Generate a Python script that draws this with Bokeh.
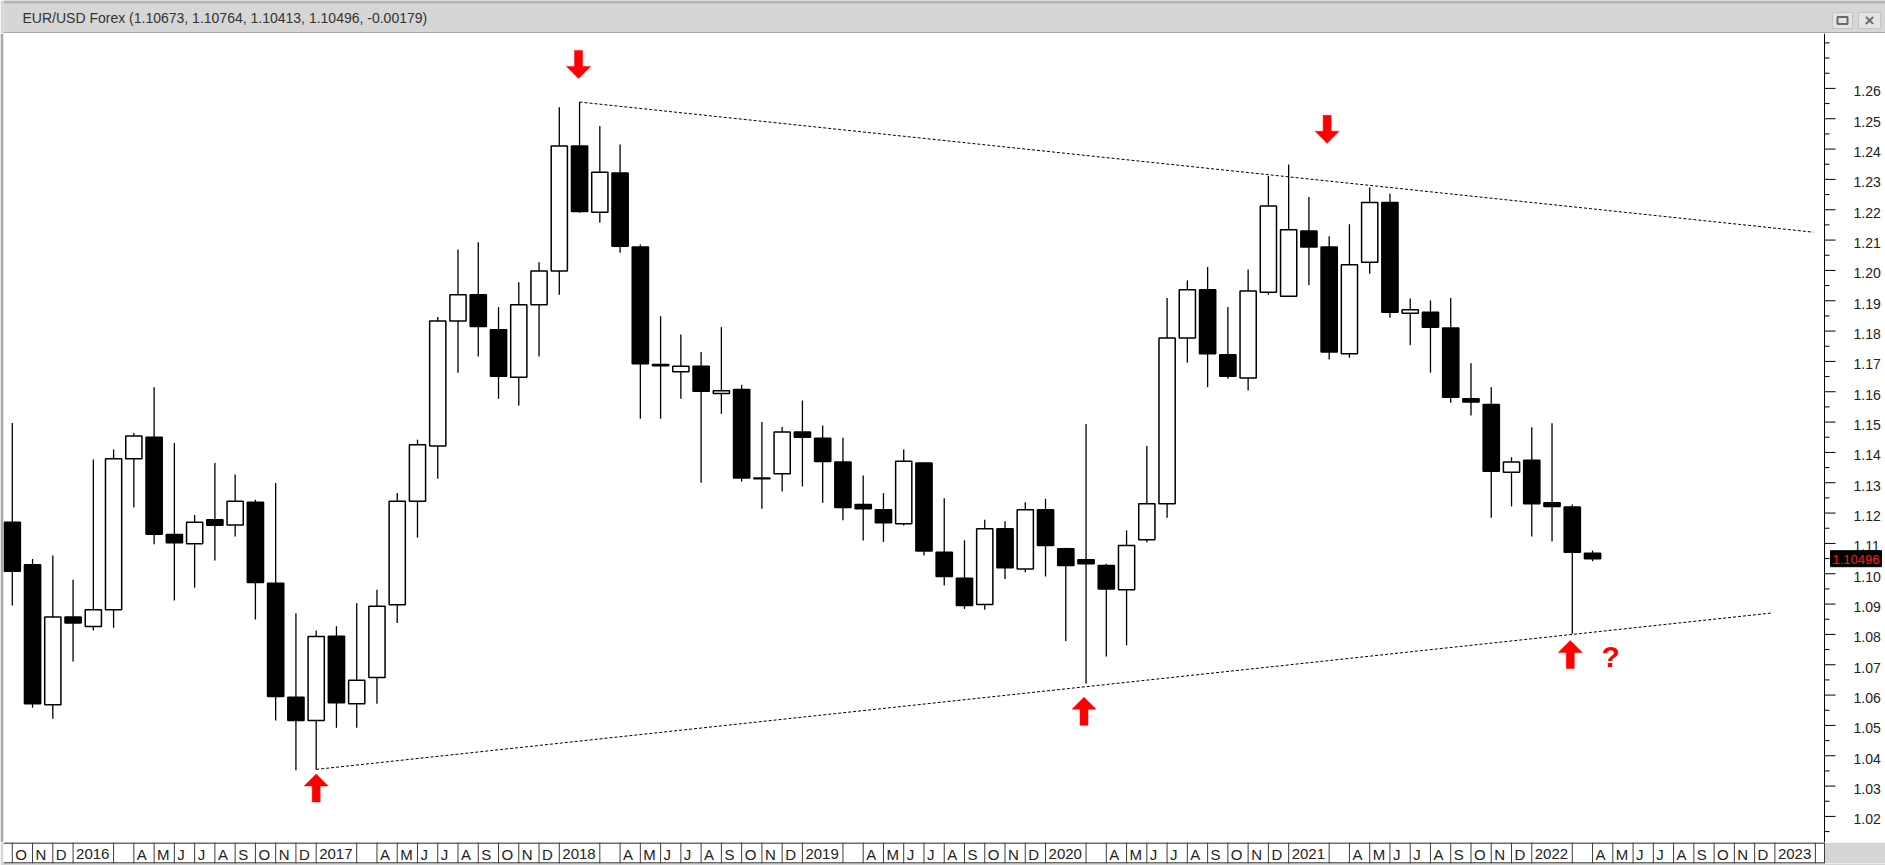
from bokeh.plotting import figure
from bokeh.layouts import column
from bokeh.models import Range1d
from bokeh.core.properties import value
from bokeh.embed import file_html
from bokeh.resources import INLINE

# ---------------- data (EUR/USD monthly, Oct 2015 .. Apr 2022) ----------------
months = ["2015-10", "2015-11", "2015-12",
          "2016-01", "2016-02", "2016-03", "2016-04", "2016-05", "2016-06",
          "2016-07", "2016-08", "2016-09", "2016-10", "2016-11", "2016-12",
          "2017-01", "2017-02", "2017-03", "2017-04", "2017-05", "2017-06",
          "2017-07", "2017-08", "2017-09", "2017-10", "2017-11", "2017-12",
          "2018-01", "2018-02", "2018-03", "2018-04", "2018-05", "2018-06",
          "2018-07", "2018-08", "2018-09", "2018-10", "2018-11", "2018-12",
          "2019-01", "2019-02", "2019-03", "2019-04", "2019-05", "2019-06",
          "2019-07", "2019-08", "2019-09", "2019-10", "2019-11", "2019-12",
          "2020-01", "2020-02", "2020-03", "2020-04", "2020-05", "2020-06",
          "2020-07", "2020-08", "2020-09", "2020-10", "2020-11", "2020-12",
          "2021-01", "2021-02", "2021-03", "2021-04", "2021-05", "2021-06",
          "2021-07", "2021-08", "2021-09", "2021-10", "2021-11", "2021-12",
          "2022-01", "2022-02", "2022-03", "2022-04"]

opens = [1.1170, 1.1030, 1.0568,
         1.0857, 1.0826, 1.0881, 1.1379, 1.1450, 1.1129,
         1.1099, 1.1178, 1.1161, 1.1236, 1.0969, 1.0593,
         1.0516, 1.0794, 1.0571, 1.0658, 1.0898, 1.1239,
         1.1421, 1.1833, 1.1920, 1.1804, 1.1648, 1.1887,
         1.1998, 1.2410, 1.2192, 1.2321, 1.2077, 1.1690,
         1.1666, 1.1684, 1.1594, 1.1607, 1.1313, 1.1330,
         1.1467, 1.1447, 1.1368, 1.1228, 1.1211, 1.1165,
         1.1365, 1.1071, 1.0985, 1.0899, 1.1148, 1.1016,
         1.1211, 1.1082, 1.1046, 1.1027, 1.0947, 1.1112,
         1.1231, 1.1777, 1.1936, 1.1722, 1.1645, 1.1928,
         1.1915, 1.2130, 1.2077, 1.1725, 1.2027, 1.2224,
         1.1859, 1.1862, 1.1810, 1.1577, 1.1558, 1.1335,
         1.1374, 1.1234, 1.1220, 1.10673]

highs = [1.1497, 1.1049, 1.1060,
         1.0980, 1.1377, 1.1410, 1.1464, 1.1615, 1.1431,
         1.1194, 1.1365, 1.1327, 1.1244, 1.1299, 1.0870,
         1.0813, 1.0827, 1.0903, 1.0947, 1.1266, 1.1442,
         1.1846, 1.2069, 1.2093, 1.1879, 1.1961, 1.2027,
         1.2538, 1.2555, 1.2476, 1.2415, 1.2085, 1.1849,
         1.1789, 1.1731, 1.1813, 1.1623, 1.1500, 1.1484,
         1.1571, 1.1489, 1.1448, 1.1324, 1.1266, 1.1410,
         1.1366, 1.1249, 1.1110, 1.1178, 1.1173, 1.1236,
         1.1247, 1.1086, 1.1494, 1.1033, 1.1143, 1.1421,
         1.1909, 1.1967, 1.2011, 1.1879, 1.2003, 1.2311,
         1.2349, 1.2242, 1.2113, 1.2152, 1.2273, 1.2253,
         1.1907, 1.1901, 1.1909, 1.1694, 1.1615, 1.1384,
         1.1483, 1.1496, 1.1228, 1.10764]

lows = [1.0895, 1.0558, 1.0522,
        1.0711, 1.0813, 1.0822, 1.1218, 1.1097, 1.0912,
        1.0954, 1.1044, 1.1123, 1.0849, 1.0516, 1.0352,
        1.0355, 1.0492, 1.0492, 1.0571, 1.0838, 1.1119,
        1.1313, 1.1663, 1.1716, 1.1577, 1.1555, 1.1716,
        1.1920, 1.2190, 1.2157, 1.2058, 1.1511, 1.1511,
        1.1577, 1.1300, 1.1527, 1.1304, 1.1214, 1.1271,
        1.1288, 1.1234, 1.1176, 1.1110, 1.1105, 1.1159,
        1.1060, 1.0961, 1.0884, 1.0881, 1.0983, 1.1005,
        1.0991, 1.0778, 1.0637, 1.0727, 1.0764, 1.1104,
        1.1185, 1.1696, 1.1615, 1.1643, 1.1604, 1.1920,
        1.1912, 1.1951, 1.1706, 1.1712, 1.1989, 1.1844,
        1.1753, 1.1663, 1.1564, 1.1522, 1.1185, 1.1222,
        1.1123, 1.1106, 1.0802, 1.10413]

closes = [1.1008, 1.0571, 1.0857,
          1.0838, 1.0881, 1.1379, 1.1454, 1.1130, 1.1102,
          1.1170, 1.1160, 1.1239, 1.0971, 1.0595, 1.0516,
          1.0793, 1.0575, 1.0649, 1.0893, 1.1239, 1.1425,
          1.1833, 1.1920, 1.1815, 1.1651, 1.1887, 1.1998,
          1.2410, 1.2194, 1.2324, 1.2080, 1.1692, 1.1686,
          1.1684, 1.1602, 1.1603, 1.1316, 1.1316, 1.1467,
          1.1450, 1.1370, 1.1218, 1.1214, 1.1168, 1.1371,
          1.1075, 1.0991, 1.0895, 1.1148, 1.1020, 1.1211,
          1.1093, 1.1027, 1.1033, 1.0950, 1.1093, 1.1231,
          1.1777, 1.1936, 1.1725, 1.1651, 1.1932, 1.2212,
          1.2134, 1.2077, 1.1731, 1.2019, 1.2224, 1.1862,
          1.1870, 1.1813, 1.1582, 1.1566, 1.1338, 1.1368,
          1.1231, 1.1222, 1.1071, 1.10496]

title_text = "EUR/USD Forex (1.10673, 1.10764, 1.10413, 1.10496, -0.00179)"
last_price_text = "1.10496"

# y-axis ticks and labels
y_ticks = [1.02, 1.03, 1.04, 1.05, 1.06, 1.07, 1.08, 1.09, 1.10, 1.11, 1.12, 1.13,
           1.14, 1.15, 1.16, 1.17, 1.18, 1.19, 1.20, 1.21, 1.22, 1.23, 1.24, 1.25, 1.26]
y_tick_labels = ["1.02", "1.03", "1.04", "1.05", "1.06", "1.07", "1.08", "1.09", "1.10",
                 "1.11", "1.12", "1.13", "1.14", "1.15", "1.16", "1.17", "1.18", "1.19",
                 "1.20", "1.21", "1.22", "1.23", "1.24", "1.25", "1.26"]
y_minor = [1.015, 1.025, 1.035, 1.045, 1.055, 1.065, 1.075, 1.085, 1.095, 1.105,
           1.115, 1.125, 1.135, 1.145, 1.155, 1.165, 1.175, 1.185, 1.195, 1.205,
           1.215, 1.225, 1.235, 1.245, 1.255, 1.265, 1.27, 1.275]

# x-axis cells: month slot index (0 = Oct 2015) and label text ("" = empty cell)
x_cell_index = [0, 1, 2]
x_cell_text = ["O", "N", "D"]
for yr_i, yr in enumerate(["2016", "2017", "2018", "2019", "2020", "2021", "2022", "2023"]):
    base = 3 + 12 * yr_i
    names = [yr, "", "A", "M", "J", "J", "A", "S", "O", "N", "D"]
    slots = [0, 2, 3, 4, 5, 6, 7, 8, 9, 10, 11]
    for s, nm in zip(slots, names):
        if yr == "2023" and s > 2:
            break
        x_cell_index.append(base + s)
        x_cell_text.append(nm)

# trend lines (bar index, price)
upper_x = [28, 88.9]
upper_y = [1.2555, 1.2126]
lower_x = [15, 86.9]
lower_y = [1.0355, 1.0871]

# red arrows: bar index, tip price, direction (+1 up, -1 down)
arrow_x = [27.95, 64.9, 15.0, 52.9, 76.9]
arrow_tip = [1.2633, 1.2419, 1.0340, 1.0593, 1.0780]
arrow_dir = [-1, -1, 1, 1, 1]
question_x = [78.9]
question_y = [1.0727]

# ---------------- layout constants ----------------
W = 1885
TITLE_H = 33
MAIN_H = 809
STRIP_H = 23
LEFT_B = 3
AXIS_X = 89.45                 # bar-index position of the price axis line
X0 = -0.434
X1 = 92.46                     # right edge of the page
Y0, Y1 = 1.0114, 1.2781
PX = (X1 - X0) / (W - LEFT_B)  # one pixel in bar units
GREY = "#d6d6d6"
FONT = "Liberation Sans"

idx = list(range(len(months)))


def bare(fig):
    fig.xgrid.visible = False
    fig.ygrid.visible = False
    return fig


# ---------------- title bar ----------------
ft = bare(figure(width=W, height=TITLE_H, x_range=Range1d(LEFT_B, W), y_range=Range1d(TITLE_H, 0),
                 x_axis_location=None, y_axis_location=None, toolbar_location=None,
                 output_backend="svg", title=None,
                 min_border_left=LEFT_B, min_border_right=0, min_border_top=0, min_border_bottom=0,
                 background_fill_color=GREY, border_fill_color=GREY, outline_line_color=None))
ft.quad(left=[0], right=[W], top=[0], bottom=[3], fill_color="#b4b4b4", line_color=None)
ft.segment(x0=[0], y0=[32.5], x1=[W], y1=[32.5], line_color="#7a7a7a", line_width=1)
ft.text(x=[22], y=[17], text=[title_text], text_font=value(FONT), text_font_size="14px",
        text_color="#333333", text_baseline="middle", text_align="left")
ft.quad(left=[1832, 1858], right=[1852, 1880], top=[12, 12], bottom=[28, 28],
        fill_color="#e4e4e4", line_color="#c4c4c4")
ft.quad(left=[1837], right=[1847], top=[16.5], bottom=[23.5], fill_color=None,
        line_color="#6a6a6a", line_width=2)
ft.text(x=[1869], y=[20], text=["×"], text_font=value(FONT), text_font_size="17px",
        text_color="#6a6a6a", text_baseline="middle", text_align="center", text_font_style="bold")

# ---------------- main chart ----------------
p = bare(figure(width=W, height=MAIN_H, x_range=Range1d(X0, X1), y_range=Range1d(Y0, Y1),
                x_axis_location=None, y_axis_location=None, toolbar_location=None,
                output_backend="svg", title=None,
                min_border_left=LEFT_B, min_border_right=0, min_border_top=0, min_border_bottom=0,
                background_fill_color="white", border_fill_color="#a8a8a8", outline_line_color=None))

up_i = [i for i in idx if closes[i] >= opens[i]]
dn_i = [i for i in idx if closes[i] < opens[i]]

p.segment(x0=idx, y0=lows, x1=idx, y1=highs, line_color="black", line_width=1.3)
p.vbar(x=up_i, bottom=[opens[i] for i in up_i], top=[closes[i] for i in up_i],
       width=0.8, fill_color="white", line_color="black", line_width=1.5)
p.vbar(x=dn_i, top=[opens[i] for i in dn_i], bottom=[closes[i] for i in dn_i],
       width=0.8, fill_color="black", line_color="black", line_width=1.5)

p.line(x=upper_x, y=upper_y, line_color="black", line_width=1, line_dash="3 2")
p.line(x=lower_x, y=lower_y, line_color="black", line_width=1, line_dash="3 2")

# arrows (pixel-sized shapes anchored at data positions)
PY = (Y1 - Y0) / MAIN_H
shape_x = [0, 12, 4, 4, -4, -4, -12]
shape_y = [0, -12, -12, -28, -28, -12, -12]
axs, ays = [], []
for ax_, at, ad in zip(arrow_x, arrow_tip, arrow_dir):
    axs.append([ax_ + sx * PX for sx in shape_x])
    ays.append([at + ad * sy * PY for sy in shape_y])
p.patches(xs=axs, ys=ays, fill_color="#ff0000", line_color="#ff0000", line_width=0.5)
p.text(x=question_x, y=question_y, text=["?"], text_color="#ff0000",
       text_font=value(FONT), text_font_size="30px", text_font_style="bold",
       text_align="center", text_baseline="middle")

# price scale on the right
p.segment(x0=[AXIS_X], y0=[Y0], x1=[AXIS_X], y1=[Y1], line_color="black", line_width=1)
p.segment(x0=[AXIS_X] * len(y_ticks), y0=y_ticks, x1=[AXIS_X + 11 * PX] * len(y_ticks), y1=y_ticks,
          line_color="black", line_width=1)
p.segment(x0=[AXIS_X] * len(y_minor), y0=y_minor, x1=[AXIS_X + 5 * PX] * len(y_minor), y1=y_minor,
          line_color="black", line_width=1)
p.text(x=[AXIS_X + 29 * PX] * len(y_ticks), y=y_ticks, text=y_tick_labels, y_offset=3,
       text_font=value(FONT), text_font_size="14px", text_color="#222222",
       text_baseline="middle", text_align="left")
# last-price tag
p.rect(x=[AXIS_X + 31.5 * PX], y=[closes[-1]], width=[51], height=[16],
       width_units="screen", height_units="screen", fill_color="black", line_color="black")
p.text(x=[AXIS_X + 31.5 * PX], y=[closes[-1]], text=[last_price_text], y_offset=1,
       text_font=value(FONT), text_font_size="13px", text_color="#ff1a1a",
       text_baseline="middle", text_align="center")

# ---------------- x-axis strip ----------------
fs = bare(figure(width=W, height=STRIP_H, x_range=Range1d(X0, X1), y_range=Range1d(0, 1),
                 x_axis_location=None, y_axis_location=None, toolbar_location=None,
                 output_backend="svg", title=None,
                 min_border_left=LEFT_B, min_border_right=0, min_border_top=0, min_border_bottom=2,
                 background_fill_color="white", border_fill_color=GREY, outline_line_color=None))
fs.quad(left=[AXIS_X], right=[X1], bottom=[0], top=[1], fill_color=GREY, line_color=None)
fs.segment(x0=[X0, X0], y0=[0.02, 0.98], x1=[AXIS_X, AXIS_X], y1=[0.02, 0.98],
           line_color="#3c3c3c", line_width=1.5)
fs.segment(x0=x_cell_index + [AXIS_X], y0=[0] * (len(x_cell_index) + 1),
           x1=x_cell_index + [AXIS_X], y1=[1] * (len(x_cell_index) + 1),
           line_color="#3c3c3c", line_width=1)
fs.text(x=x_cell_index, y=[0.5] * len(x_cell_index), text=x_cell_text, x_offset=3, y_offset=1,
        text_font=value(FONT), text_font_size="15px", text_color="#222222",
        text_baseline="middle", text_align="left")

layout = column(ft, p, fs, spacing=0)
open("out.html", "w").write(file_html(layout, INLINE))
